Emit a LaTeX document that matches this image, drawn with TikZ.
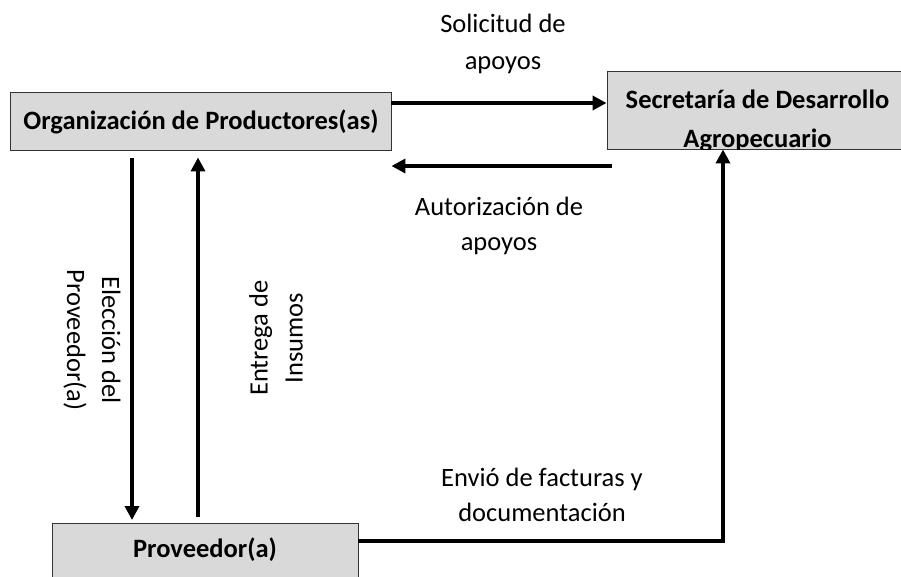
\documentclass[tikz,border=0pt]{standalone}
\usepackage{fontspec}
\setmainfont{Carlito}
\usetikzlibrary{arrows.meta,calc}
\begin{document}
\begin{tikzpicture}[x=1pt,y=-1pt,
  box/.style={draw=black!80, line width=0.9pt, fill=black!15, inner sep=0pt},
  btxt/.style={font=\fontsize{26.5}{39}\selectfont\bfseries, align=center, inner sep=0pt},
  lbl/.style={font=\fontsize{26.5}{35}\selectfont, align=center, inner sep=0pt},
  arr/.style={line width=3.6pt, -{Triangle[length=14pt,width=14pt]}},
  ln/.style={line width=3.6pt}]
\clip (0,0) rectangle (901,576);
\fill[white] (0,0) rectangle (901,576);
% boxes
\node[box, minimum width=381pt, minimum height=58pt] (org) at (200.5,121) {};
\node[btxt] at (201,121.5) {Organización de Productores(as)};
\node[box, minimum width=296pt, minimum height=78pt] (sec) at (755,110) {};
\begin{scope}
\clip (607,71) rectangle (903,149);
\node[btxt] at (757.5,121) {Secretaría de Desarrollo\\Agropecuario};
\end{scope}
\node[box, minimum width=306pt, minimum height=70pt, anchor=north] (prov) at (205,523) {};
\node[btxt] at (205,550) {Proveedor(a)};
% connectors
\coordinate (s1) at ([yshift=18pt]org.east);
\draw[arr] (s1) -- (s1 -| sec.west);
\coordinate (a1) at (612,166);
\draw[arr] (a1) -- (a1 -| org.east);
\coordinate (e1) at (132,158);
\draw[arr, shorten >=3pt] (e1) -- (e1 |- prov.north);
\coordinate (i1) at (198,517);
\draw[arr, shorten >=7pt] (i1) -- (i1 |- org.south);
\coordinate (p1) at (prov.east |- 0,541);
\coordinate (p2) at (723,541);
\draw[arr] (p1) -- (p2) -- (p2 |- sec.south);
% labels
\node[lbl, font=\fontsize{26.5}{37}\selectfont] at (503,44) {Solicitud de\\apoyos};
\node[lbl] at (499,226) {Autorización de\\apoyos};
\node[lbl, rotate=-90] at (92,340) {Elección del\\Proveedor(a)};
\node[lbl, rotate=90] at (276,338) {Entrega de\\Insumos};
\node[lbl] at (542,495) {Envió de facturas y\\documentación};
\end{tikzpicture}
\end{document}
